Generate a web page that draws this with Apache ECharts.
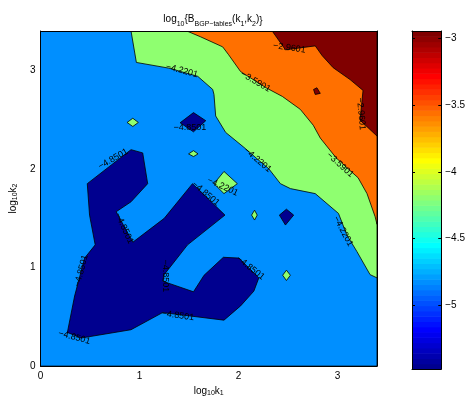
<!DOCTYPE html>
<html><head><meta charset="utf-8">
<script src="https://cdn.jsdelivr.net/npm/echarts@6/dist/echarts.min.js"></script>
<style>html,body{margin:0;padding:0;background:#fff}#c{width:468px;height:402px}</style>
</head><body><div id="c"></div>
<script>
const FONT = '"Liberation Sans", Arial, sans-serif';

// axis extents and ticks (log10 k)
const xRange = [0, 3.4];
const yRange = [0, 3.4];
const xTicks = [0, 1, 2, 3];
const yTicks = [0, 1, 2, 3];

// contour levels and colour bar range
const levels = [-4.8501, -4.2201, -3.5901, -2.9601];
const cRange = [-5.475, -2.945];
const cbTicks = [-5, -4.5, -4, -3.5, -3];

// fill colour of each band (below first level ... above last level)
const bandColors = ['#00008F', '#008FFF', '#8FFF70', '#FF7000', '#800000'];

// band boundaries, [log10 k1, log10 k2]
const domainBox = [[0, 0], [3.4, 0], [3.4, 3.4], [0, 3.4]];
const aboveL2 = [[0.915, 3.4], [0.969, 3.081], [1.298, 3.023], [1.589, 2.940], [1.740, 2.807], [1.753, 2.756],
  [1.770, 2.538], [1.871, 2.371], [2.055, 2.220], [2.190, 2.102], [2.307, 2.002], [2.424, 1.851], [2.525, 1.801],
  [2.776, 1.750], [3.011, 1.549], [3.095, 1.331], [3.196, 1.164], [3.330, 0.928], [3.4, 0.895], [3.4, 3.4]];
const aboveL3 = [[1.479, 3.4], [1.620, 3.340], [1.841, 3.239], [1.901, 3.159], [2.022, 2.988], [2.283, 2.822],
  [2.444, 2.736], [2.625, 2.605], [2.756, 2.444], [2.827, 2.314], [2.988, 2.112], [3.108, 2.002], [3.209, 1.911],
  [3.299, 1.750], [3.380, 1.519], [3.4, 1.439], [3.4, 3.4]];
const aboveL4 = [[2.341, 3.4], [2.475, 3.209], [2.776, 3.249], [2.847, 3.149], [2.957, 3.028], [3.128, 2.907],
  [3.259, 2.797], [3.229, 2.495], [3.4, 2.334], [3.4, 3.4]];
const peakL4 = [[2.759, 2.807], [2.793, 2.824], [2.827, 2.767], [2.776, 2.756]];
const belowL1Main = [[0.473, 1.851], [0.915, 2.196], [1.033, 2.163], [1.083, 1.851], [0.915, 1.667], [0.765, 1.566],
  [0.933, 1.257], [1.250, 1.499], [1.536, 1.851], [1.864, 1.532], [1.486, 1.230], [1.250, 0.928], [1.234, 0.862],
  [1.546, 0.754], [1.653, 0.922], [1.848, 1.104], [2.005, 1.096], [2.206, 0.895], [2.156, 0.761], [2.022, 0.611],
  [1.854, 0.466], [1.234, 0.543], [0.915, 0.369], [0.412, 0.285], [0.272, 0.342], [0.345, 0.711], [0.446, 1.096],
  [0.553, 1.230], [0.496, 1.532]];
const belowL1a = [[1.546, 2.572], [1.670, 2.490], [1.546, 2.377], [1.411, 2.469]];
const belowL1b = [[2.485, 1.592], [2.558, 1.532], [2.475, 1.431], [2.414, 1.532]];
const aboveL2a = [[0.933, 2.515], [0.989, 2.472], [0.933, 2.431], [0.875, 2.472]];
const aboveL2b = [[1.546, 2.186], [1.592, 2.153], [1.546, 2.126], [1.496, 2.153]];
const aboveL2c = [[1.854, 1.975], [1.989, 1.851], [1.854, 1.750], [1.753, 1.851]];
const aboveL2d = [[2.163, 1.582], [2.190, 1.532], [2.163, 1.482], [2.133, 1.532]];
const aboveL2e = [[2.485, 0.973], [2.525, 0.922], [2.485, 0.868], [2.447, 0.922]];

// drawing order: [outline, band index]
const layers = [
  [domainBox, 1], [aboveL2, 2], [aboveL3, 3], [aboveL4, 4], [peakL4, 4],
  [belowL1Main, 0], [belowL1a, 0], [belowL1b, 0],
  [aboveL2a, 2], [aboveL2b, 2], [aboveL2c, 2], [aboveL2d, 2], [aboveL2e, 2]
];

// inline contour labels: [log10 k1, log10 k2, angle (deg, ccw), level index]
const clabels = [
  [1.428, 2.998, -15, 1], [2.173, 2.887, -30, 2], [2.515, 3.229, -8, 3], [3.239, 2.560, -85, 3],
  [2.193, 2.092, -40, 1], [3.028, 2.042, -42, 2], [3.058, 1.368, -62, 1], [1.841, 1.821, -25, 1],
  [1.509, 2.424, 0, 0], [0.734, 2.102, 30, 0], [1.670, 1.750, -40, 0], [0.845, 1.398, -65, 0],
  [0.412, 0.966, 75, 0], [1.268, 0.915, -90, 0], [1.388, 0.513, -8, 0], [0.342, 0.292, -15, 0],
  [2.122, 0.996, -38, 0]
];

// jet colour map with m entries (blue -> cyan -> yellow -> red)
function jet(m) {
  const h = Math.ceil(m / 4);
  const u = [];
  for (let i = 1; i <= h; i++) u.push(i / h);
  for (let i = 1; i < h; i++) u.push(1);
  for (let i = h; i >= 1; i--) u.push(i / h);
  const g0 = Math.ceil(h / 2) - (m % 4 === 1 ? 1 : 0);
  const R = new Array(m).fill(0), G = new Array(m).fill(0), B = new Array(m).fill(0);
  u.forEach((v, k) => {
    const gi = g0 + k + 1, ri = gi + h, bi = gi - h;
    if (gi >= 1 && gi <= m) G[gi - 1] = v;
    if (ri >= 1 && ri <= m) R[ri - 1] = v;
    if (bi >= 1 && bi <= m) B[bi - 1] = v;
  });
  const ch = v => Math.round(v * 255);
  return R.map((_, i) => `rgb(${ch(R[i])},${ch(G[i])},${ch(B[i])})`);
}
const cmap = jet(64);
const cbCells = cmap.map((c, i) => [
  cRange[0] + (cRange[1] - cRange[0]) * i / cmap.length,
  cRange[0] + (cRange[1] - cRange[0]) * (i + 1) / cmap.length,
  i
]);

const minus = v => (v < 0 ? '\u2212' : '') + Math.abs(v);

const richStyle = {
  m: {fontSize: 10, fontFamily: FONT, color: '#000', verticalAlign: 'top', lineHeight: 11},
  s: {fontSize: 7, fontFamily: FONT, color: '#000', verticalAlign: 'bottom', lineHeight: 8}
};

const frameAxis = (extra) => Object.assign({
  type: 'value', z: 10,
  axisLine: {show: true, onZero: false, lineStyle: {color: '#000', width: 1}},
  axisTick: {show: false}, axisLabel: {show: false}, splitLine: {show: false}
}, extra);

const chart = echarts.init(document.getElementById('c'), null, {renderer: 'canvas'});
chart.setOption({
  animation: false,
  backgroundColor: '#fff',
  textStyle: {fontFamily: FONT},
  title: {
    text: '{m|log}{s|10}{m|{B}{s|BGP\u2212tables}{m|(k}{s|1}{m|,k}{s|2}{m|)\u007d}',
    left: 208, top: 9, textAlign: 'center',
    textStyle: {fontSize: 10, fontWeight: 'normal', color: '#000', fontFamily: FONT, rich: richStyle, lineHeight: 14}
  },
  grid: [
    {left: 39, top: 31, width: 338, height: 338, containLabel: false},
    {left: 412, top: 31, width: 32, height: 338, containLabel: false}
  ],
  xAxis: [
    frameAxis({gridIndex: 0, min: xRange[0], max: xRange[1],
      name: '{m|log}{s|10}{m|k}{s|1}', nameLocation: 'middle', nameGap: 15,
      nameTextStyle: {rich: richStyle, lineHeight: 14},
      axisLabel: {show: true, color: '#000', fontSize: 10, margin: 5, customValues: xTicks}}),
    frameAxis({gridIndex: 0, min: xRange[0], max: xRange[1], position: 'top'}),
    frameAxis({gridIndex: 1, min: 0, max: 1}),
    frameAxis({gridIndex: 1, min: 0, max: 1, position: 'top'})
  ],
  yAxis: [
    frameAxis({gridIndex: 0, min: yRange[0], max: yRange[1],
      name: '{m|log}{s|10}{m|k}{s|2}', nameLocation: 'middle', nameGap: 17, nameRotate: 90,
      nameTextStyle: {rich: richStyle, lineHeight: 14},
      axisLabel: {show: true, color: '#000', fontSize: 10, margin: 5, customValues: yTicks}}),
    frameAxis({gridIndex: 0, min: yRange[0], max: yRange[1], position: 'right'}),
    frameAxis({gridIndex: 1, min: cRange[0], max: cRange[1], position: 'right',
      axisTick: {show: true, inside: true, length: 3, lineStyle: {color: '#000'}, customValues: cbTicks},
      axisLabel: {show: true, color: '#000', fontSize: 10, margin: 4, customValues: cbTicks, formatter: minus}}),
    frameAxis({gridIndex: 1, min: cRange[0], max: cRange[1], position: 'left',
      axisTick: {show: true, inside: true, length: 3, lineStyle: {color: '#000'}, customValues: cbTicks}})
  ],
  series: [
    {
      type: 'custom', xAxisIndex: 0, yAxisIndex: 0, clip: true, silent: true,
      data: layers.map(l => l[0][0]),
      renderItem: (params, api) => {
        const [pts, band] = layers[params.dataIndex];
        return {
          type: 'polygon',
          shape: {points: pts.map(p => api.coord(p))},
          style: {fill: bandColors[band], stroke: '#000', lineWidth: 0.8}
        };
      }
    },
    {
      type: 'custom', xAxisIndex: 0, yAxisIndex: 0, clip: true, silent: true, z: 3,
      data: clabels.map(l => [l[0], l[1]]),
      renderItem: (params, api) => {
        const l = clabels[params.dataIndex];
        const p = api.coord([l[0], l[1]]);
        return {
          type: 'text', x: p[0], y: p[1], rotation: l[2] * Math.PI / 180,
          style: {text: levels[l[3]].toFixed(4).replace('-', '\u2212'), fontSize: 9, fontFamily: FONT,
            fill: '#000', align: 'center', verticalAlign: 'middle'}
        };
      }
    },
    {
      type: 'custom', xAxisIndex: 2, yAxisIndex: 2, silent: true,
      data: cbCells.map(c => [0, c[0]]),
      renderItem: (params, api) => {
        const c = cbCells[params.dataIndex];
        const a = api.coord([0, c[0]]);
        const b = api.coord([1, c[1]]);
        return {
          type: 'rect',
          shape: {x: a[0], y: b[1], width: b[0] - a[0], height: a[1] - b[1] + 0.6},
          style: {fill: cmap[c[2]]}
        };
      }
    }
  ]
});
</script>
</body></html>
